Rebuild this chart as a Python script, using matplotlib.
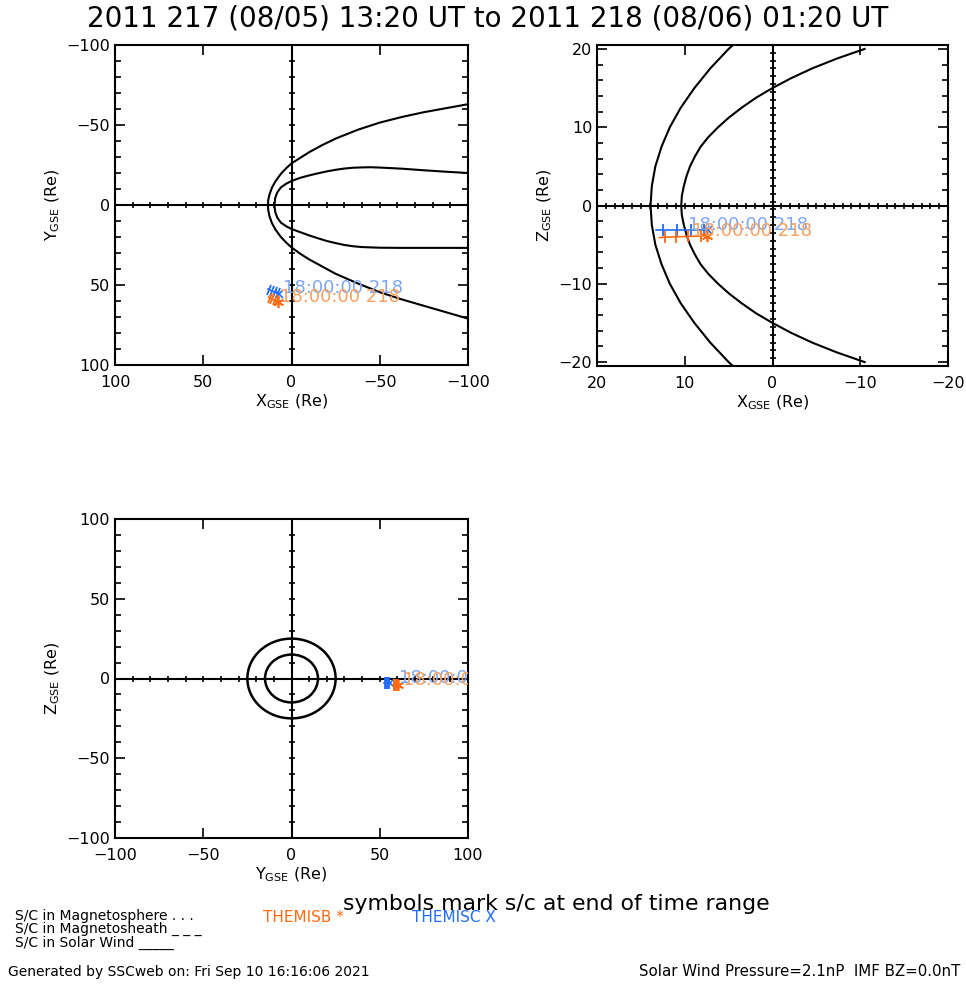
import numpy as np
import matplotlib.pyplot as plt
from matplotlib.ticker import MultipleLocator, NullLocator
from matplotlib.markers import MarkerStyle
from matplotlib.transforms import Affine2D
from matplotlib.patches import Circle

title = '2011 217 (08/05) 13:20 UT to 2011 218 (08/06) 01:20 UT'

# model boundaries (Re)
# X-Y plane: bow shock, dawn (-Y) branch then dusk (+Y) branch
bs_xy_x = [-100, -87.5, -75, -62.5, -50, -37.5, -25, -17.5, -10, -5, 0, 3, 6, 9, 11, 12.5, 13.2, 13.3,
           13.2, 12.5, 11, 9, 6, 3, 0, -5, -10, -17.5, -25, -37.5, -50, -62.5, -75, -87.5, -100]
bs_xy_y = [-63, -60.5, -58, -55, -51.5, -47, -41.5, -37.5, -33, -29.5, -26, -23, -19.5, -15, -11, -6.5, -3, 0,
           3, 7, 11.5, 15.5, 20, 23.5, 26.5, 30.5, 34, 38.5, 43, 49, 54.5, 59, 63, 67, 71]
# X-Y plane: magnetopause
mp_xy_x = [-100, -87.5, -75, -62.5, -50, -45, -40, -35, -30, -25, -20, -15, -10, -5, 0, 3, 6, 8, 9.2, 9.7,
           9.2, 8, 6, 3, 0, -5, -10, -15, -20, -25, -30, -35, -40, -50, -62.5, -75, -100]
mp_xy_y = [-20, -20.8, -21.7, -22.7, -23.4, -23.6, -23.5, -23.3, -22.8, -22, -21, -19.8, -18.5, -17, -15, -13.3, -11, -8, -4.5, 0,
           4.5, 8, 11, 13.3, 15, 17, 19, 20.8, 22.5, 23.8, 25, 25.8, 26.3, 26.7, 26.8, 26.8, 26.8]
# X-Z plane
bs_xz_x = [4.0, 5.0, 7.1, 8.9, 10.45, 11.7, 12.65, 13.35, 13.75, 13.9,
           13.75, 13.35, 12.65, 11.7, 10.45, 8.9, 7.1, 5.0, 4.0]
bs_xz_z = [21, 20, 17.5, 15, 12.5, 10, 7.5, 5, 2.5, 0,
           -2.5, -5, -7.5, -10, -12.5, -15, -17.5, -20, -21]
mp_xz_x = [-10.5, -7.3, -4.5, -2.1, 0.0, 1.9, 3.5, 4.95, 6.2, 7.3, 8.2, 8.85, 9.4, 9.8, 10.1, 10.33, 10.4,
           10.33, 10.1, 9.8, 9.4, 8.85, 8.2, 7.3, 6.2, 4.95, 3.5, 1.9, 0.0, -2.1, -4.5, -7.3, -10.5]
mp_xz_z = [20, 18.75, 17.5, 16.25, 15, 13.75, 12.5, 11.25, 10, 8.75, 7.5, 6.25, 5, 3.75, 2.5, 1.25, 0,
           -1.25, -2.5, -3.75, -5, -6.25, -7.5, -8.75, -10, -11.25, -12.5, -13.75, -15, -16.25, -17.5, -18.75, -20]
# Y-Z plane cross sections (radius, Re)
yz_radii = [15, 25]

# spacecraft tracks (GSE, Re): start, 3-hourly ticks, end
themisb_x = [12.9, 12.3, 11.0, 9.6, 8.1, 7.5]
themisb_y = [57.5, 58.0, 58.8, 59.5, 60.2, 60.5]
themisb_z = [-4.1, -4.05, -4.0, -3.95, -3.9, -3.85]
themisc_x = [13.3, 12.5, 10.9, 9.3, 7.8, 7.3]
themisc_y = [52.5, 53.0, 53.8, 54.6, 55.3, 55.6]
themisc_z = [-3.1, -3.1, -3.1, -3.1, -3.1, -3.1]
track_label = '18:00:00 218'

orange = '#ff6a10'
blue = '#1f6cff'
orange_txt = '#f7a060'
blue_txt = '#7ea6f2'

W, H = 966, 986
fig = plt.figure(figsize=(W / 100, H / 100), dpi=100)


def px_axes(x0, y0, x1, y1):
    return fig.add_axes([x0 / W, 1 - y1 / H, (x1 - x0) / W, (y1 - y0) / H])


def setup(ax, xlim, ylim, ymaj, ymin, xlab, ylab, cross_step):
    ax.set_xlim(*xlim)
    ax.set_ylim(*ylim)
    ax.xaxis.set_major_locator(MultipleLocator(ymaj))
    ax.xaxis.set_minor_locator(NullLocator())
    ax.yaxis.set_major_locator(MultipleLocator(ymaj))
    ax.yaxis.set_minor_locator(MultipleLocator(ymin))
    ax.tick_params(which='both', direction='in', top=True, right=True, width=1.2, labelsize=11.5)
    ax.tick_params(which='major', length=7)
    ax.tick_params(which='minor', length=4)
    ax.tick_params(axis='x', pad=7)
    for s in ax.spines.values():
        s.set_linewidth(1.5)
    ax.set_xlabel(xlab, fontsize=11.5, labelpad=2)
    ax.set_ylabel(ylab, fontsize=11.5, labelpad=3)
    ax.axhline(0, color='black', lw=1.5)
    ax.axvline(0, color='black', lw=1.5)
    t = np.arange(min(xlim), max(xlim) + cross_step / 2, cross_step)
    ax.plot(t, np.zeros_like(t), ls='none', marker='|', ms=5, mew=1.2, color='black')
    t = np.arange(min(ylim), max(ylim) + cross_step / 2, cross_step)
    ax.plot(np.zeros_like(t), t, ls='none', marker='_', ms=5, mew=1.2, color='black')


def track(ax, xs, ys, color, tcolor, endmark, off):
    ax.plot(xs, ys, color=color, lw=1.2)
    p0 = ax.transData.transform((xs[0], ys[0]))
    p1 = ax.transData.transform((xs[-1], ys[-1]))
    ang = np.degrees(np.arctan2(p1[1] - p0[1], p1[0] - p0[0]))
    m = MarkerStyle('|', transform=Affine2D().rotate_deg(ang))
    ax.plot(xs[1:-1], ys[1:-1], ls='none', marker=m, ms=8, mew=1.3, color=color)
    if endmark == 'x':
        ax.plot(xs[-1], ys[-1], marker='x', ms=6, mew=1.2, color=color)
    else:
        ax.plot(xs[-1], ys[-1], marker=(6, 2, 0), ms=8, mew=1.2, color=color)
    t = ax.annotate(track_label, (xs[-1], ys[-1]), xytext=off, textcoords='offset pixels',
                    color=tcolor, fontsize=13, va='center', ha='left')
    t.set_clip_on(True)
    t.set_clip_box(ax.bbox)


xl = r'X$_{\rm GSE}$ (Re)'

# X-Y
ax1 = px_axes(115, 45, 468, 365)
setup(ax1, (100, -100), (100, -100), 50, 10, xl, r'Y$_{\rm GSE}$ (Re)', 10)
ax1.plot(bs_xy_x, bs_xy_y, color='black', lw=1.5)
ax1.plot(mp_xy_x, mp_xy_y, color='black', lw=1.5)
track(ax1, themisc_x, themisc_y, blue, blue_txt, 'x', (4, 6))
track(ax1, themisb_x, themisb_y, orange, orange_txt, '*', (2, 5))

# X-Z
ax2 = px_axes(597, 45, 948, 366)
setup(ax2, (20, -20), (-20.5, 20.5), 10, 2, xl, r'Z$_{\rm GSE}$ (Re)', 1)
ax2.plot(bs_xz_x, bs_xz_z, color='black', lw=1.5)
ax2.plot(mp_xz_x, mp_xz_z, color='black', lw=1.5)
track(ax2, themisc_x, themisc_z, blue, blue_txt, 'x', (-20, 5))
track(ax2, themisb_x, themisb_z, orange, orange_txt, '*', (-15, 5))

# Y-Z
ax3 = px_axes(115, 519, 468, 838)
setup(ax3, (-100, 100), (-100, 100), 50, 10, r'Y$_{\rm GSE}$ (Re)', r'Z$_{\rm GSE}$ (Re)', 10)
for r in yz_radii:
    ax3.add_patch(Circle((0, 0), r, fill=False, color='black', lw=1.8))
track(ax3, themisc_y, themisc_z, blue, blue_txt, 'x', (9, 5))
track(ax3, themisb_y, themisb_z, orange, orange_txt, '*', (5, 5))

fig.text(0.505, 1 - 18 / H, title, ha='center', va='center', fontsize=20)
fig.text(343 / W, 1 - 904 / H, 'symbols mark s/c at end of time range', ha='left', va='center', fontsize=15.8)
fig.text(15 / W, 1 - 916 / H, 'S/C in Magnetosphere . . .', ha='left', va='center', fontsize=10)
fig.text(15 / W, 1 - 929 / H, 'S/C in Magnetosheath _ _ _', ha='left', va='center', fontsize=10)
fig.text(15 / W, 1 - 943 / H, 'S/C in Solar Wind _____', ha='left', va='center', fontsize=10)
fig.text(263 / W, 1 - 918 / H, 'THEMISB *', ha='left', va='center', fontsize=11, color=orange)
fig.text(412 / W, 1 - 918 / H, 'THEMISC X', ha='left', va='center', fontsize=11, color=blue)
fig.text(8 / W, 1 - 972 / H, 'Generated by SSCweb on: Fri Sep 10 16:16:06 2021', ha='left', va='center', fontsize=10)
fig.text(960 / W, 1 - 972 / H, 'Solar Wind Pressure=2.1nP  IMF BZ=0.0nT', ha='right', va='center', fontsize=10.8)

fig.savefig('out.png', dpi=100)
